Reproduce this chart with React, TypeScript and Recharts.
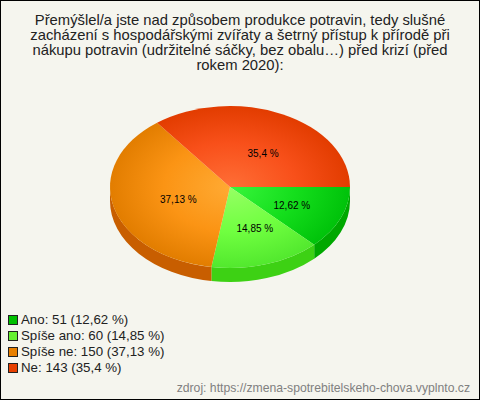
import { Legend, Pie, PieChart } from "recharts"

const categories = ["Ano", "Spíše ano", "Spíše ne", "Ne"]
const counts = [51, 60, 150, 143]
const percentLabels = ["12,62 %", "14,85 %", "37,13 %", "35,4 %"]
const edgeColors = ["#00c20a", "#52e82e", "#e27d00", "#e23c00"]
const middleColors = ["#14de1c", "#70ff40", "#fb9414", "#f8501a"]
const centerColors = ["#38f53c", "#96ff64", "#ffaa33", "#ff6e36"]
const wallColors = ["#00a800", "#3dd114", "#c85e00", "#c03000"]
const swatchColors = ["#00c000", "#66f030", "#e88000", "#e84000"]

const titleLines = [
  "Přemýšlel/a jste nad způsobem produkce potravin, tedy slušné",
  "zacházení s hospodářskými zvířaty a šetrný přístup k přírodě při",
  "nákupu potravin (udržitelné sáčky, bez obalu…) před krizí (před",
  "rokem 2020):",
]
const sourceText = "zdroj: https://zmena-spotrebitelskeho-chova.vyplnto.cz"

const tableData = categories.map((name, i) => ({
  name: `${name}: ${counts[i]} (${percentLabels[i]})`,
  value: counts[i],
  fill: swatchColors[i],
  index: i,
}))

const CX = 230
const CY = 187
const RADIUS = 120
const SQUASH = 81 / 120
const DEPTH = 14

// recharts only draws round pies, so the sector angles get mapped onto an ellipse here
const pointAt = (cx: number, cy: number, rx: number, deg: number) => {
  const a = (deg * Math.PI) / 180
  return [cx + rx * Math.cos(a), cy + rx * SQUASH * Math.sin(a)]
}

const TopSlice = (props: any) => {
  const { cx, cy, outerRadius, startAngle, endAngle, payload } = props
  const from = -startAngle
  const to = -endAngle
  const [x0, y0] = pointAt(cx, cy, outerRadius, from)
  const [x1, y1] = pointAt(cx, cy, outerRadius, to)
  const large = to - from > 180 ? 1 : 0
  const ry = outerRadius * SQUASH
  const d = `M${cx},${cy}L${x0},${y0}A${outerRadius},${ry} 0 ${large} 1 ${x1},${y1}Z`
  return <path d={d} fill={`url(#slice${payload.index})`} />
}

const WallSlice = (props: any) => {
  const { cx, cy, outerRadius, startAngle, endAngle, payload } = props
  const from = Math.max(-startAngle, 0)
  const to = Math.min(-endAngle, 180)
  if (to <= from) return null
  const [x0, y0] = pointAt(cx, cy, outerRadius, from)
  const [x1, y1] = pointAt(cx, cy, outerRadius, to)
  const ry = outerRadius * SQUASH
  const d =
    `M${x0},${y0}A${outerRadius},${ry} 0 0 1 ${x1},${y1}` +
    `L${x1},${y1 + DEPTH}A${outerRadius},${ry} 0 0 0 ${x0},${y0 + DEPTH}Z`
  return <path d={d} fill={wallColors[payload.index]} />
}

const sliceLabel = (props: any) => {
  const { cx, cy, outerRadius, midAngle, index } = props
  const [x, y] = pointAt(cx, cy, outerRadius * 0.5, -midAngle)
  return (
    <text
      key={index}
      x={x + 6.5}
      y={y + 3}
      textAnchor="middle"
      dominantBaseline="central"
      fontFamily="Liberation Sans"
      fontSize={10}
      fill="#000"
    >
      {percentLabels[index]}
    </text>
  )
}

const LegendList = ({ payload }: any) => (
  <div style={{ fontFamily: "Liberation Sans", fontSize: 13.3, lineHeight: "16px", color: "#222" }}>
    {(payload || [])
      .filter((entry: any) => entry.type !== "none")
      .map((entry: any) => (
        <div key={entry.value} style={{ display: "flex", alignItems: "center", height: 16 }}>
          <span
            style={{
              width: 10,
              height: 10,
              marginRight: 3,
              border: "1px solid #222",
              boxSizing: "border-box",
              background: entry.color,
            }}
          />
          {entry.value}
        </div>
      ))}
  </div>
)

export default function App() {
  return (
    <div
      style={{
        position: "fixed",
        left: 0,
        top: 0,
        width: 480,
        height: 400,
        boxSizing: "border-box",
        border: "1px solid #000",
        background: "#f5f5ee",
        overflow: "hidden",
      }}
    >
      <div
        style={{
          position: "absolute",
          left: -1,
          top: 12,
          width: 480,
          textAlign: "center",
          fontFamily: "Liberation Sans",
          fontSize: 14.8,
          lineHeight: "15px",
          color: "#222",
        }}
      >
        {titleLines.map((line) => (
          <div key={line}>{line}</div>
        ))}
      </div>
      <div style={{ position: "absolute", left: -1, top: -1 }}>
        <PieChart width={480} height={400} margin={{ top: 0, right: 0, bottom: 0, left: 0 }}>
          <defs>
            {categories.map((name, i) => (
              <radialGradient
                key={name}
                id={`slice${i}`}
                gradientUnits="userSpaceOnUse"
                cx={0}
                cy={0}
                r={1}
                gradientTransform={`translate(${CX} ${CY}) scale(${RADIUS} ${RADIUS * SQUASH})`}
              >
                <stop offset="0%" stopColor={centerColors[i]} />
                <stop offset="55%" stopColor={middleColors[i]} />
                <stop offset="100%" stopColor={edgeColors[i]} />
              </radialGradient>
            ))}
          </defs>
          <Pie
            data={tableData}
            dataKey="value"
            nameKey="name"
            cx={CX}
            cy={CY}
            outerRadius={RADIUS}
            startAngle={0}
            endAngle={-360}
            shape={WallSlice}
            legendType="none"
            isAnimationActive={false}
          />
          <Pie
            data={tableData}
            dataKey="value"
            nameKey="name"
            cx={CX}
            cy={CY}
            outerRadius={RADIUS}
            startAngle={0}
            endAngle={-360}
            shape={TopSlice}
            label={sliceLabel}
            labelLine={false}
            isAnimationActive={false}
          />
          <Legend
            layout="horizontal"
            verticalAlign="bottom"
            itemSorter={null}
            content={LegendList}
            wrapperStyle={{ left: 8, top: 312, bottom: "auto", width: 240 }}
          />
        </PieChart>
      </div>
      <div
        style={{
          position: "absolute",
          right: 9,
          top: 380,
          fontFamily: "Liberation Sans",
          fontSize: 12.2,
          lineHeight: "14px",
          color: "#808080",
          whiteSpace: "nowrap",
        }}
      >
        {sourceText}
      </div>
    </div>
  )
}
